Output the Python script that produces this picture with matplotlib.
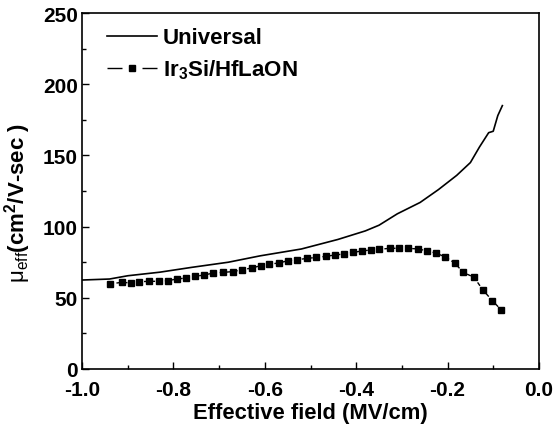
import matplotlib
matplotlib.use("Agg")
import matplotlib.pyplot as plt
from matplotlib.ticker import MultipleLocator, FormatStrFormatter
from matplotlib.lines import Line2D

plt.rcParams['font.family'] = ['Liberation Sans', 'DejaVu Sans']
plt.rcParams['mathtext.fontset'] = 'custom'
plt.rcParams['mathtext.rm'] = 'Liberation Sans'
plt.rcParams['mathtext.it'] = 'Liberation Sans:italic'
plt.rcParams['mathtext.bf'] = 'Liberation Sans:bold'
plt.rcParams['axes.unicode_minus'] = False

# Universal mobility curve
univ_field = [-1.0, -0.94, -0.90, -0.83, -0.76, -0.68, -0.61, -0.52, -0.44, -0.38,
              -0.35, -0.31, -0.26, -0.22, -0.18, -0.15, -0.13, -0.11, -0.10, -0.09, -0.08]
univ_mu = [62.5, 63.2, 65.5, 68.0, 71.4, 75.0, 79.5, 84.3, 91.0, 97.0,
           101.0, 109.0, 117.0, 126.0, 136.0, 145.0, 156.0, 166.0, 167.0, 178.0, 185.0]

# Ir3Si/HfLaON measured
dev_field = [-0.940, -0.913, -0.893, -0.875, -0.853, -0.832, -0.813, -0.793, -0.772, -0.753,
             -0.733, -0.713, -0.691, -0.670, -0.649, -0.629, -0.609, -0.590, -0.570, -0.549,
             -0.529, -0.507, -0.487, -0.467, -0.446, -0.426, -0.406, -0.388, -0.368, -0.350,
             -0.325, -0.306, -0.286, -0.265, -0.246, -0.225, -0.206, -0.184, -0.166, -0.142,
             -0.123, -0.102, -0.083]
dev_mu = [59.7, 60.9, 60.4, 61.3, 61.6, 61.6, 62.0, 63.2, 63.9, 65.1,
          66.0, 67.4, 67.9, 68.4, 69.8, 70.9, 72.6, 73.7, 74.4, 76.1,
          76.8, 77.7, 78.4, 79.1, 80.1, 80.8, 81.9, 82.9, 83.6, 84.1,
          84.8, 84.8, 84.8, 84.3, 83.1, 81.3, 78.9, 74.4, 67.9, 64.4,
          55.7, 48.0, 41.7]

fig = plt.figure(figsize=(5.55, 4.27), dpi=100)
ax = fig.add_axes([0.148, 0.1335, 0.823, 0.8335])

ax.plot(univ_field, univ_mu, color='black', lw=1.2)
ax.plot(dev_field, dev_mu, color='black', lw=1.0, ls=(0, (3, 2)), marker='s',
        markersize=4.3)

ax.set_xlim(-1.0, 0.0)
ax.set_ylim(0, 250)
ax.xaxis.set_major_locator(MultipleLocator(0.2))
ax.xaxis.set_minor_locator(MultipleLocator(0.1))
ax.yaxis.set_major_locator(MultipleLocator(50))
ax.yaxis.set_minor_locator(MultipleLocator(25))
ax.xaxis.set_major_formatter(FormatStrFormatter('%.1f'))
ax.tick_params(which='both', direction='in', top=False, right=False)
ax.tick_params(which='major', length=5, width=1, labelsize=15)
ax.tick_params(axis='x', which='major', pad=8)
ax.tick_params(axis='y', which='major', pad=3)
ax.tick_params(which='minor', length=3, width=1)
for lab in ax.get_xticklabels() + ax.get_yticklabels():
    lab.set_fontweight('bold')
for s in ax.spines.values():
    s.set_linewidth(1.2)

ax.set_xlabel('Effective field (MV/cm)', fontsize=15.8, fontweight='bold', labelpad=2)
ax.set_ylabel('$\\mathrm{\\mu}_{\\rm eff}$(cm$^{\\bf 2}$/V-sec )', fontsize=16,
              fontweight='bold')
ax.yaxis.set_label_coords(-0.107, 0.469)

# legend proxies so the dashed handle reads "— ■ —"
h_univ = Line2D([], [], color='black', lw=1.2)
h_dev = Line2D([], [], color='black', lw=1.0, ls=(0, (10.8, 14.4)), marker='s',
               markersize=4)
ax.legend([h_univ, h_dev], ['Universal', 'Ir$_{\\bf 3}$Si/HfLaON'], loc='upper left',
          frameon=False, prop={'size': 16, 'weight': 'bold'},
          handlelength=2.25, handletextpad=0.25, labelspacing=0.42,
          borderaxespad=0.0, bbox_to_anchor=(0.035, 0.985))

fig.savefig('out.png', dpi=100)
